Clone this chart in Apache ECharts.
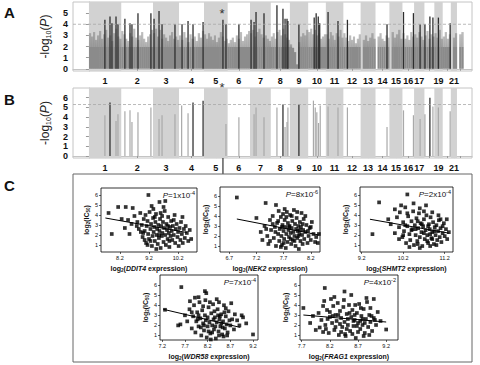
<!DOCTYPE html>
<html><head><meta charset="utf-8">
<script src="https://cdn.jsdelivr.net/npm/echarts@6/dist/echarts.min.js"></script>
<style>html,body{margin:0;padding:0;background:#fff}#c{width:480px;height:365px}</style>
</head><body><div id="c"></div>
<script>
// ---------------- DATA ----------------
const chromNames = ['1','2','3','4','5','6','7','8','9','10','11','12','13','14','15','16','17','18','19','20','21','22'];
const chromLengthMb = [247,243,199,191,181,171,159,146,140,135,134,132,114,106,100,89,79,76,64,62,47,50];
const chromTickLabels = ['1','2','3','4','5','6','7','8','9','10','11','12','13','14','15','16','17','','19','','21',''];
const yTicksA = [0,1,2,3,4,5];
const yTicksB = [0,1,2,3,4,5,6];
const thresholdA = 4.0;
const thresholdB = 5.3;

// background envelope of -log10(P) per chromosome (bins across each chromosome)
const bgPeaks = [
 [3.2,2.9,3.3,2.6,3.0,3.4,2.7,3.1,3.5,2.8,3.0,2.5,3.2,3.6,2.9,2.7],
 [3.4,3.1,2.7,2.5,3.2,2.9,3.6,2.8,2.6,3.0,3.3,2.7,2.4,2.9,3.1,3.5],
 [3.2,3.6,2.9,3.5,2.7,3.1,2.8,2.5,3.0,3.3,2.7,2.9,2.6],
 [3.0,2.6,3.3,2.8,2.4,3.1,2.7,2.9,2.5,3.2,2.8,3.4],
 [3.1,2.7,3.2,2.9,2.6,3.0,2.4,2.8,3.3,2.9,2.5,2.7],
 [2.3,2.6,2.8,2.4,3.0,2.7,3.3,2.5,2.9,3.1,3.4],
 [3.2,3.5,2.9,3.3,3.6,3.1,2.8,3.0,2.7,2.5],
 [2.9,3.2,2.7,3.3,3.5,3.0,3.6,3.1,2.8,2.6],
 [2.2,1.9,1.5,0.4,2.4,2.9,3.2,3.0,3.5],
 [3.3,3.6,3.1,3.5,3.0,3.2,2.7,2.9,3.1],
 [3.1,2.7,3.3,3.0,2.6,3.2,2.9,3.5,2.8],
 [3.2,2.8,2.5,3.0,2.6,2.9,2.3,2.7,3.1],
 [0,2.6,3.0,2.5,2.8,3.2,2.7],
 [0,2.9,3.2,2.7,2.5,3.0,2.8],
 [0,3.3,2.8,3.1,3.5,2.7],
 [3.2,2.7,3.0,2.6,3.3,2.9],
 [3.1,2.8,3.3,2.9,2.6],
 [3.0,3.4,2.7,3.1,2.9],
 [3.2,2.8,3.5,2.7],
 [2.9,3.3,2.7,3.1],
 [0,2.8,3.2],
 [0,3.1,3.3]
];
// [chromosome, position (Mb), -log10(P)]
const hitsA = [
 [1,122,4.4],[1,161,4.7],[1,176,4.1],[1,207,4.7],[1,222,4.0],
 [2,28,4.5],[2,67,4.1],[2,82,4.0],[2,128,5.0],[2,227,5.0],
 [3,8,4.5],[3,46,5.2],[3,69,4.0],[3,168,4.0],
 [4,23,4.0],[4,69,4.3],[4,107,4.0],[4,184,4.2],
 [5,145,4.4],[5,168,4.0],[6,86,4.0],
 [7,8,4.4],[7,31,4.2],[7,46,5.1],[7,107,5.0],
 [8,47,5.7],[8,93,5.4],[8,109,4.5],[8,124,4.5],[8,131,4.3],
 [9,69,4.0],[10,46,4.6],[10,61,5.0],[10,77,4.7],[10,88,4.1],
 [11,17,5.1],[11,93,4.3],[12,31,4.4],[14,88,4.0],
 [16,8,5.1],[16,84,5.0],[17,46,4.0],[18,4,4.0],[18,42,4.7],[18,65,4.6],
 [19,31,4.6],[20,57,4.1]
];
const starHit = [5,145];
const starLevelA = 5.15;
const hitsBStrong = [[1,161,5.5],[4,107,5.5],[4,184,5.7],[8,93,5.3],[9,69,5.3],[18,42,6.0]];
const hitsBOther = [
 [1,122,4.2],[1,207,3.6],[1,222,4.3],[2,28,4.6],[2,67,4.7],[2,82,3.5],[2,128,4.5],[2,227,5.0],
 [3,46,3.8],[3,69,4.2],[3,168,4.3],[4,20,5.2],[4,69,4.4],[5,168,3.3],[6,86,4.0],
 [7,31,4.3],[7,46,5.0],[7,107,4.0],[8,47,5.0],[8,109,3.0],[8,124,3.5],[8,131,5.0],
 [10,40,5.7],[10,54,5.0],[10,66,4.5],[10,79,3.4],[10,92,5.2],[11,17,5.1],[11,93,5.0],[12,31,5.0],
 [14,88,3.0],[16,8,4.7],[16,84,4.2],[17,46,3.8],[18,4,4.3],[18,65,5.1],[19,31,5.0],[20,57,4.6]
];

// panel C: log2 expression vs log2(IC50)
const ddit4Points = [[7.81,4.2],[7.92,2.1],[8.14,4.8],[8.4,4.8],[8.64,4.7],[9.18,6.0],[9.56,5.3],[9.76,5.4],[9.29,4.9],[8.26,3.6],[8.48,3.5],[8.37,2.7],[8.53,2.1],[8.7,3.9],[8.8,3.3],[8.85,2.6],[8.9,4.2],[8.95,3.0],[8.98,1.8],[9.02,3.6],[9.05,2.4],[9.08,4.0],[9.1,1.2],[9.12,2.9],[9.15,3.4],[9.17,2.1],[9.2,1.6],[9.22,4.3],[9.25,2.6],[9.27,3.1],[9.3,0.9],[9.32,1.9],[9.34,3.7],[9.36,2.3],[9.38,2.8],[9.4,1.4],[9.42,3.3],[9.44,4.1],[9.46,2.0],[9.48,2.6],[9.5,1.1],[9.52,3.0],[9.54,1.7],[9.56,2.4],[9.58,3.6],[9.6,0.7],[9.62,2.9],[9.64,1.9],[9.66,2.2],[9.68,3.3],[9.7,1.3],[9.72,2.7],[9.74,4.4],[9.76,2.0],[9.78,1.0],[9.8,3.1],[9.82,2.5],[9.84,1.6],[9.86,3.8],[9.88,2.2],[9.9,0.8],[9.92,2.8],[9.94,1.9],[9.96,3.4],[9.98,2.4],[10.0,1.5],[10.02,2.9],[10.05,2.0],[10.08,4.0],[10.1,1.2],[10.12,2.6],[10.15,3.1],[10.18,1.8],[10.2,2.3],[10.22,0.9],[10.25,2.7],[10.28,1.5],[10.3,3.3],[10.33,2.1],[10.36,1.2],[10.4,2.6],[10.43,1.7],[10.46,2.9],[10.5,2.2],[10.55,1.4],[10.6,2.5],[10.65,1.6],[9.0,2.2],[9.15,1.0],[9.35,4.6],[9.45,0.6],[9.65,3.9],[9.85,2.9],[10.05,3.5],[9.55,2.0],[9.25,1.4],[9.05,1.5],[8.92,2.3],[8.78,2.9],[8.6,3.1],[9.7,4.8],[9.9,1.4],[10.35,3.8],[9.4,3.8],[9.6,4.2]];
const nek2Points = [[6.84,5.85],[7.2,3.8],[7.37,5.3],[7.56,5.1],[7.69,4.2],[7.28,2.4],[7.31,1.6],[7.35,3.0],[7.4,2.0],[7.42,1.2],[7.45,3.6],[7.47,2.6],[7.5,4.0],[7.52,1.8],[7.54,2.9],[7.56,1.0],[7.58,3.3],[7.6,2.2],[7.61,4.5],[7.62,1.5],[7.63,2.7],[7.65,3.9],[7.66,2.0],[7.67,1.1],[7.68,3.1],[7.7,2.5],[7.71,1.7],[7.72,3.6],[7.73,2.9],[7.74,0.8],[7.75,2.2],[7.76,4.4],[7.77,1.4],[7.78,3.3],[7.79,2.6],[7.8,1.9],[7.81,3.0],[7.82,4.1],[7.83,2.3],[7.84,1.2],[7.85,2.8],[7.86,3.5],[7.87,1.6],[7.88,2.4],[7.89,4.6],[7.9,2.0],[7.91,3.2],[7.92,1.0],[7.93,2.7],[7.94,3.8],[7.95,1.8],[7.96,2.5],[7.97,3.0],[7.98,0.7],[7.99,2.2],[8.0,3.4],[8.01,1.5],[8.02,2.9],[8.03,4.3],[8.04,2.1],[8.05,1.2],[8.06,2.6],[8.07,3.7],[8.08,1.7],[8.1,2.4],[8.12,3.1],[8.14,1.3],[8.16,2.0],[8.18,2.8],[8.2,1.6],[8.22,3.4],[8.25,2.2],[8.28,1.4],[8.3,1.9],[8.33,1.3],[7.45,1.5],[7.55,2.4],[7.65,0.9],[7.75,3.9],[7.85,4.0],[7.95,4.4],[8.05,3.2],[8.15,2.5],[7.7,1.3],[7.8,2.9],[7.9,1.5],[8.0,2.6],[7.6,3.5],[7.72,4.7],[8.1,4.0],[7.97,2.0],[7.83,1.7],[7.67,2.9],[7.5,3.2],[7.38,2.7],[8.2,2.9],[8.35,2.2]];
const shmt2Points = [[9.46,2.1],[9.62,5.3],[10.3,6.1],[9.84,3.6],[10.0,4.6],[10.15,5.0],[9.9,3.1],[10.0,2.2],[10.05,3.8],[10.1,2.8],[10.12,4.3],[10.18,1.8],[10.2,3.3],[10.22,2.4],[10.25,4.8],[10.27,1.2],[10.3,2.9],[10.32,3.9],[10.35,2.1],[10.37,1.5],[10.4,3.4],[10.42,2.6],[10.44,4.4],[10.46,1.0],[10.48,3.0],[10.5,2.0],[10.52,3.7],[10.54,1.4],[10.56,2.7],[10.58,4.2],[10.6,1.8],[10.62,3.2],[10.64,2.3],[10.66,0.9],[10.68,2.9],[10.7,3.6],[10.72,1.6],[10.74,2.5],[10.76,4.0],[10.78,2.0],[10.8,1.2],[10.82,3.1],[10.84,2.6],[10.86,3.8],[10.88,1.7],[10.9,2.3],[10.92,3.3],[10.94,1.1],[10.96,2.8],[10.98,2.0],[11.0,3.0],[11.02,1.5],[11.04,2.4],[11.06,3.5],[11.08,1.8],[11.1,2.7],[11.12,1.3],[11.15,2.2],[11.18,3.2],[11.2,1.9],[11.23,2.6],[11.26,1.6],[11.3,2.3],[10.45,5.2],[10.6,4.7],[10.75,5.0],[10.9,4.3],[11.05,4.0],[10.35,0.8],[10.55,1.1],[10.85,0.9],[10.5,2.6],[10.7,2.2],[10.65,3.1],[10.8,2.9],[10.95,2.4],[11.1,3.6],[10.4,2.5],[10.25,3.0],[10.1,1.6],[10.6,0.7],[10.78,1.4],[11.0,1.0],[10.3,4.2],[10.9,1.6],[11.15,2.9],[10.55,3.4],[10.7,4.4],[10.85,2.1],[11.25,3.6],[10.2,2.0]];
const wdr58Points = [[7.62,5.8],[7.26,3.55],[9.2,1.1],[8.98,2.8],[8.85,2.5],[8.14,5.4],[8.17,5.2],[7.81,4.4],[7.92,4.75],[7.55,2.0],[7.6,2.1],[7.7,3.0],[7.75,2.4],[7.8,3.6],[7.85,1.7],[7.88,2.9],[7.9,4.0],[7.93,1.3],[7.95,2.4],[7.97,3.3],[8.0,1.9],[8.02,4.3],[8.04,2.7],[8.06,1.0],[8.08,3.5],[8.1,2.2],[8.12,1.5],[8.14,3.0],[8.16,2.5],[8.18,0.8],[8.2,1.9],[8.22,3.8],[8.24,2.3],[8.26,1.2],[8.28,3.2],[8.3,2.0],[8.32,4.1],[8.34,1.6],[8.36,2.8],[8.38,0.7],[8.4,2.3],[8.42,3.6],[8.44,1.4],[8.46,2.6],[8.48,1.9],[8.5,3.1],[8.52,1.1],[8.54,2.4],[8.56,4.0],[8.58,1.7],[8.6,2.9],[8.62,2.1],[8.64,1.3],[8.66,3.4],[8.7,2.0],[8.74,2.6],[8.78,1.6],[8.8,3.1],[8.9,2.0],[9.05,2.2],[8.0,3.0],[8.1,3.9],[8.2,2.8],[8.3,1.3],[8.4,4.6],[8.5,2.2],[8.6,3.7],[8.15,4.5],[8.25,4.3],[8.35,3.4],[8.45,1.0],[8.55,0.9],[8.05,1.8],[7.98,2.6],[8.33,2.6],[8.43,3.0],[8.53,1.8],[8.63,1.0],[8.72,4.2],[8.68,2.5],[8.27,0.6],[8.37,1.9],[8.47,2.9],[8.12,2.0],[8.22,1.4],[8.57,3.3],[7.85,3.3],[8.45,4.3],[8.0,4.8],[8.95,3.0]];
const frag1Points = [[7.73,3.7],[8.11,5.7],[8.02,1.75],[8.08,1.3],[9.2,1.55],[8.46,5.35],[8.58,5.0],[8.98,4.6],[7.85,2.2],[7.9,2.9],[7.95,1.5],[8.0,3.2],[8.05,2.5],[8.1,4.4],[8.12,2.0],[8.15,3.5],[8.18,1.2],[8.2,2.8],[8.22,4.6],[8.24,2.2],[8.26,3.9],[8.28,1.5],[8.3,3.0],[8.32,2.4],[8.34,4.2],[8.36,1.0],[8.38,3.4],[8.4,2.7],[8.42,1.8],[8.44,3.8],[8.46,2.3],[8.48,0.9],[8.5,3.1],[8.52,2.0],[8.54,4.0],[8.56,1.4],[8.58,2.8],[8.6,3.5],[8.62,1.9],[8.64,2.5],[8.66,0.7],[8.68,3.2],[8.7,2.2],[8.72,4.1],[8.74,1.6],[8.76,2.9],[8.78,2.0],[8.8,3.6],[8.82,1.2],[8.84,2.6],[8.86,4.3],[8.88,1.8],[8.9,3.0],[8.92,2.3],[8.95,1.4],[8.98,2.7],[9.02,2.0],[9.05,3.3],[9.1,2.4],[8.25,2.9],[8.35,3.0],[8.45,4.5],[8.55,3.2],[8.65,4.0],[8.75,3.7],[8.85,4.7],[8.3,1.8],[8.4,1.3],[8.5,1.6],[8.6,1.1],[8.7,1.3],[8.8,0.9],[8.9,1.0],[8.2,3.3],[8.08,3.9],[8.16,2.6],[8.64,3.0],[8.74,2.4],[8.94,2.9],[8.38,2.1],[8.52,2.6],[8.62,2.4],[8.82,2.2],[8.92,3.7],[8.13,1.6],[8.47,1.1],[8.28,4.8],[8.68,1.9],[9.0,2.5],[8.78,2.6]];
const ddit4Fit = [[7.7,3.7],[10.5,2.25]];
const nek2Fit = [[6.84,3.7],[8.35,2.1]];
const shmt2Fit = [[9.4,3.6],[11.3,2.2]];
const wdr58Fit = [[7.22,3.6],[8.92,1.8]];
const frag1Fit = [[7.73,3.0],[9.2,2.3]];
const ddit4XTicks = [8.2,9.2,10.2];
const nek2XTicks = [6.7,7.2,7.7,8.2];
const shmt2XTicks = [9.2,10.2,11.2];
const wdr58XTicks = [7.2,7.7,8.2,8.7,9.2];
const frag1XTicks = [7.7,8.2,8.7,9.2];
const icTicks = [1,2,3,4,5,6];
const geneNames = ['DDIT4','NEK2','SHMT2','WDR58','FRAG1'];
const pMantissa = ['1','8','2','7','4'];
const pExponent = ['-4','-6','-4','-4','-2'];

// ---------------- BUILD ----------------
const FONT = '"Liberation Sans", Arial, Helvetica, sans-serif';
const chromStart = [];
let acc = 0;
chromLengthMb.forEach(l => { chromStart.push(acc); acc += l; });
const gpos = (c, p) => chromStart[c - 1] + p;
const chromCenters = chromLengthMb.map((l, i) => chromStart[i] + l / 2);
const centerLabel = new Map(chromCenters.map((c, i) => [c, chromTickLabels[i]]));
const oddBands = chromLengthMb.map((l, i) => [chromStart[i], chromStart[i] + l]).filter((d, i) => i % 2 === 0);
const bgData = [];
bgPeaks.forEach((arr, ci) => {
  const w = chromLengthMb[ci] / arr.length;
  arr.forEach((h, j) => bgData.push([chromStart[ci] + j * w, chromStart[ci] + (j + 1) * w, h]));
});
const toG = a => a.map(d => [gpos(d[0], d[1]), d[2]]);

const XMIN = -122, XMAX = 2930;
const grids = [
  {left:73, top:2, width:399, height:69, show:true, borderColor:'#c4c4c4', borderWidth:1},
  {left:73, top:88, width:399, height:70, show:true, borderColor:'#c4c4c4', borderWidth:1}
];
const xAxes = [], yAxes = [], series = [];
const yName = {
  text: '{a|-log}{s|10}{a|(}{i|P}{a|)}',
  rich: {a:{fontSize:12, fontFamily:FONT, color:'#222', lineHeight:15},
         s:{fontSize:7, fontFamily:FONT, color:'#222', verticalAlign:'bottom', lineHeight:15},
         i:{fontSize:12, fontFamily:FONT, color:'#222', fontStyle:'italic', lineHeight:15}}
};
[0,1].forEach(g => {
  xAxes.push({type:'value', gridIndex:g, min:XMIN, max:XMAX,
    axisLine:{show:true, lineStyle:{color:'#c4c4c4'}},
    splitLine:{show:false},
    axisTick:{show:true, customValues:chromCenters, length:2, lineStyle:{color:'#999'}},
    axisLabel:{customValues:chromCenters, formatter:v => centerLabel.get(v) || '', fontSize:9, fontWeight:'bold', color:'#111', fontFamily:FONT, margin:5}
  });
  const ticks = g === 0 ? yTicksA : yTicksB;
  yAxes.push({type:'value', gridIndex:g, min:-0.2, max: g === 0 ? 6.0 : 7.0,
    axisLine:{show:true, lineStyle:{color:'#c4c4c4'}},
    splitLine:{show:false},
    axisTick:{show:true, customValues:ticks, length:3, lineStyle:{color:'#999'}},
    axisLabel:{customValues:ticks, fontSize:9, fontWeight:'bold', color:'#111', fontFamily:FONT, margin:5},
    name:yName.text, nameLocation:'middle', nameRotate:90, nameGap:19,
    nameTextStyle:{rich:yName.rich}
  });
  // chromosome bands
  series.push({type:'custom', xAxisIndex:g, yAxisIndex:g, z:1, silent:true, data:oddBands,
    renderItem(params, api){
      const cs = params.coordSys;
      const a = api.coord([api.value(0), 0])[0], b = api.coord([api.value(1), 0])[0];
      return {type:'rect', shape:{x:a, y:cs.y, width:b - a, height:cs.height}, style:{fill:'#d2d2d2'}};
    }});
  // threshold dashed line
  series.push({type:'custom', xAxisIndex:g, yAxisIndex:g, z:4, silent:true, data:[[0, g === 0 ? thresholdA : thresholdB]],
    renderItem(params, api){
      const cs = params.coordSys;
      const y = api.coord([0, api.value(1)])[1];
      return {type:'line', shape:{x1:cs.x, y1:y, x2:cs.x + cs.width, y2:y}, style:{stroke:'#a8a8a8', lineWidth:0.8, lineDash:[3,2]}};
    }});
});
// background Manhattan envelope (panel A)
series.push({type:'custom', xAxisIndex:0, yAxisIndex:0, z:2, silent:true, data:bgData,
  renderItem(params, api){
    const x0 = api.value(0), x1 = api.value(1), h = api.value(2);
    const pTop = api.coord([x0, h]), pBot = api.coord([x1, 0]);
    const ySplit = api.coord([x0, 2])[1];
    const hgt = pBot[1] - pTop[1];
    if (hgt <= 0) return null;
    let f = (ySplit - pTop[1]) / hgt; f = Math.max(0, Math.min(1, f));
    return {type:'rect', shape:{x:pTop[0], y:pTop[1], width:pBot[0] - pTop[0] + 0.2, height:hgt},
      style:{fill:new echarts.graphic.LinearGradient(0,0,0,1,[{offset:0,color:'rgba(110,110,110,0.45)'},{offset:f,color:'rgba(110,110,110,0.55)'},{offset:f,color:'#8b8b8b'},{offset:1,color:'#8b8b8b'}])}};
  }});
function spikeSeries(g, data, color, width, z){
  return {type:'custom', xAxisIndex:g, yAxisIndex:g, z:z, silent:true, data:data,
    renderItem(params, api){
      const p0 = api.coord([api.value(0), 0]), p1 = api.coord([api.value(0), api.value(1)]);
      return {type:'line', shape:{x1:p0[0], y1:p0[1], x2:p1[0], y2:p1[1]}, style:{stroke:color, lineWidth:width}};
    }};
}
series.push(spikeSeries(0, toG(hitsA), '#2e2e2e', 1.3, 3));
series.push(spikeSeries(1, toG(hitsBOther), '#a9a9a9', 1.2, 3));
series.push(spikeSeries(1, toG(hitsBStrong), '#333', 1.3, 3));

// scatter panels
const panels = [
  {pts:ddit4Points, fit:ddit4Fit, xt:ddit4XTicks, box:{left:101, top:188, width:96, height:64}, x:[7.55,10.85], y:[0.3,6.7]},
  {pts:nek2Points, fit:nek2Fit, xt:nek2XTicks, box:{left:220, top:187, width:100, height:65}, x:[6.53,8.37], y:[0.4,6.9]},
  {pts:shmt2Points, fit:shmt2Fit, xt:shmt2XTicks, box:{left:360, top:187, width:93, height:65}, x:[9.16,11.4], y:[0.3,6.85]},
  {pts:wdr58Points, fit:wdr58Fit, xt:wdr58XTicks, box:{left:160, top:275, width:98, height:65}, x:[7.15,9.31], y:[0.55,7.0]},
  {pts:frag1Points, fit:frag1Fit, xt:frag1XTicks, box:{left:300, top:275, width:98, height:65}, x:[7.67,9.41], y:[0.5,7.0]}
];
const smallRich = {
  a:{fontSize:7, fontWeight:'bold', fontFamily:FONT, color:'#111', lineHeight:10},
  s:{fontSize:4.5, fontWeight:'bold', fontFamily:FONT, color:'#111', verticalAlign:'bottom', lineHeight:10},
  i:{fontSize:7, fontWeight:'bold', fontStyle:'italic', fontFamily:FONT, color:'#111', lineHeight:10}
};
panels.forEach((p, k) => {
  const g = k + 2;
  grids.push(Object.assign({show:true, borderColor:'#000', borderWidth:0.8}, p.box));
  xAxes.push({type:'value', gridIndex:g, min:p.x[0], max:p.x[1],
    axisLine:{show:false}, splitLine:{show:false},
    axisTick:{show:true, customValues:p.xt, length:2, lineStyle:{color:'#000', width:0.6}},
    axisLabel:{customValues:p.xt, fontSize:5.5, color:'#111', fontFamily:FONT, margin:3},
    name:'{a|log}{s|2}{a|(}{i|' + geneNames[k] + '}{a| expression)}', nameLocation:'middle', nameGap:11,
    nameTextStyle:{rich:smallRich}});
  yAxes.push({type:'value', gridIndex:g, min:p.y[0], max:p.y[1],
    axisLine:{show:false}, splitLine:{show:false},
    axisTick:{show:true, customValues:icTicks, length:2, lineStyle:{color:'#000', width:0.6}},
    axisLabel:{customValues:icTicks, fontSize:5.5, color:'#111', fontFamily:FONT, margin:3},
    name:'{a|log}{s|2}{a|(IC}{s|50}{a|)}', nameLocation:'middle', nameRotate:90, nameGap:10,
    nameTextStyle:{rich:smallRich}});
  series.push({type:'scatter', xAxisIndex:g, yAxisIndex:g, data:p.pts, symbol:'rect', symbolSize:3.7,
    itemStyle:{color:'#000'}, silent:true, z:3});
  series.push({type:'line', xAxisIndex:g, yAxisIndex:g, data:p.fit, symbol:'none', silent:true,
    lineStyle:{color:'#000', width:1}, z:4});
});

const chart = echarts.init(document.getElementById('c'), null, {renderer:'svg'});
chart.setOption({animation:false, backgroundColor:'#fff', grid:grids, xAxis:xAxes, yAxis:yAxes, series:series});

// annotations (positions derived from the axes)
const gx = gpos(starHit[0], starHit[1]);
const starA = chart.convertToPixel({xAxisIndex:0, yAxisIndex:0}, [gx, starLevelA]);
const topB = chart.convertToPixel({xAxisIndex:1, yAxisIndex:1}, [gx, 7.0]);
const cBox = {x:73, y:174, width:399, height:188};
const starStyle = {text:'*', font:'13px ' + FONT, fill:'#333'};
const elements = [
  {type:'text', left:4, top:5, style:{text:'A', font:'bold 15px ' + FONT, fill:'#111'}},
  {type:'text', left:4, top:92, style:{text:'B', font:'bold 15px ' + FONT, fill:'#111'}},
  {type:'text', left:4, top:178, style:{text:'C', font:'bold 15px ' + FONT, fill:'#111'}},
  {type:'text', left:starA[0] - 3.5, top:starA[1] - 4, z:100, style:starStyle},
  {type:'text', left:topB[0] - 3.5, top:topB[1] - 7, z:100, style:starStyle},
  {type:'line', shape:{x1:topB[0], y1:topB[1] + 2, x2:topB[0], y2:cBox.y}, style:{stroke:'#222', lineWidth:1.1}},
  {type:'rect', shape:cBox, style:{stroke:'#666', lineWidth:1, fill:null}}
];
panels.forEach((p, k) => {
  elements.push({type:'text', x:p.box.left + p.box.width - 2, y:p.box.top + 2,
    style:{text:'{i|P}{a|=' + pMantissa[k] + 'x10}{e|' + pExponent[k] + '}', align:'right', verticalAlign:'top', textAlign:'right', textVerticalAlign:'top',
      rich:{i:{fontSize:8, fontStyle:'italic', fontFamily:FONT, fill:'#111', color:'#111', lineHeight:10},
            a:{fontSize:8, fontFamily:FONT, fill:'#111', color:'#111', lineHeight:10},
            e:{fontSize:5.5, fontFamily:FONT, fill:'#111', color:'#111', verticalAlign:'top', lineHeight:10}}}});
});
chart.setOption({graphic:{elements:elements}});
</script>
</body></html>
